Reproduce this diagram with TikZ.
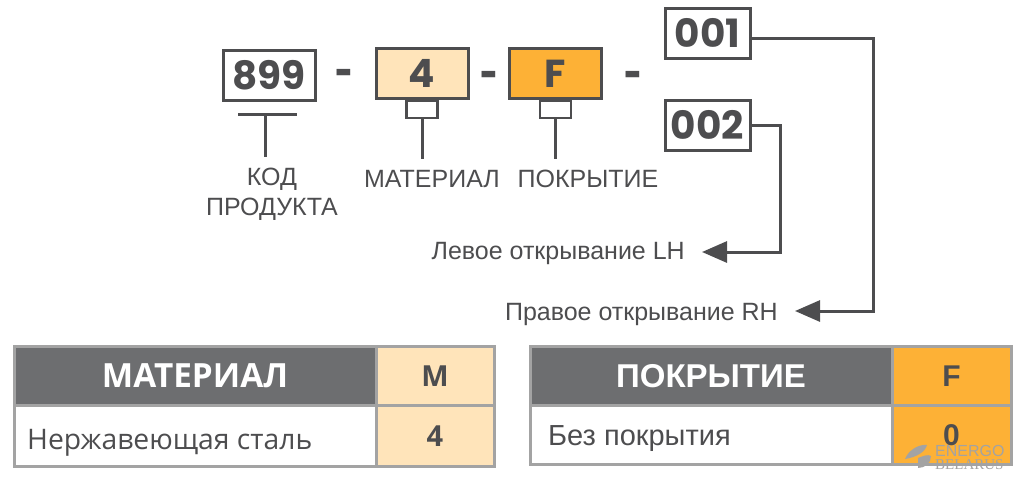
\documentclass[tikz,border=0pt]{standalone}
\usepackage{fontspec}
\setmainfont{Liberation Sans}
\newfontfamily\opensans{Open Sans}
\newfontfamily\popfont{Poppins}
\usetikzlibrary{arrows.meta,calc}
\definecolor{inkgray}{HTML}{4D4D4F}
\definecolor{headgray}{HTML}{6D6E70}
\definecolor{rulegray}{HTML}{A3A3A3}
\definecolor{lightcell}{HTML}{FFE4BA}
\definecolor{orangecell}{HTML}{FDB136}
\newcommand{\fsz}[1]{\fontsize{#1}{#1}\selectfont}
\tikzset{%
  codebox/.style  = {shape=rectangle, draw=inkgray, line width=3pt, inner sep=0pt,%
                     minimum width=92pt, minimum height=50pt, text=inkgray,%
                     font=\popfont\bfseries\fsz{39}},%
  tabbox/.style   = {shape=rectangle, draw=inkgray, line width=2.2pt, fill=white,%
                     inner sep=0pt, minimum width=31pt, minimum height=17pt},%
  partlabel/.style= {inner sep=0pt, text=inkgray, font=\fsz{25}, align=center},%
  hyphen/.style   = {inner sep=0pt, text=inkgray, font=\opensans\bfseries\fsz{52}},%
  wire/.style     = {draw=inkgray, line width=3pt},%
  openarrow/.style= {wire, -{Triangle[length=25pt,width=21pt]}},%
  leader/.style   = {draw=inkgray, line width=3pt},%
  sidetext/.style = {inner sep=0pt, anchor=east, text=inkgray, font=\fsz{25}},%
  cell/.style     = {shape=rectangle, draw=rulegray, line width=3pt, inner sep=0pt},%
  headcell/.style = {cell, fill=headgray, text=white, font=\opensans\bfseries\fsz{33.3}},%
  keycell/.style  = {cell, text=inkgray, font=\opensans\bfseries\fsz{29}},%
  rowtext/.style  = {inner sep=0pt, anchor=west, text=inkgray}%
}
\begin{document}
\begin{tikzpicture}[x=1pt,y=-1pt]
	\useasboundingbox (0,0) rectangle (1024,480);
	% code row
	\node [codebox] (code) at (269,75.5) {899};
	\node [codebox,fill=lightcell] (material) at (422,73.5) {4};
	\node [codebox,fill=orangecell] (coating) at (555.5,73.5) {F};
	\node [codebox,minimum width=85pt] (right) at (707.5,33) {001};
	\node [codebox,minimum width=85pt] (left) at (707.5,125) {002};
	\node [hyphen] (dashA) at (343.5,78) {-};
	\node [hyphen] (dashB) at (488.5,80) {-};
	\node [hyphen] (dashC) at (632.5,80) {-};
	% part labels
	\node [tabbox,anchor=north] (materialtab) at (material.south) {};
	\node [tabbox,anchor=north] (coatingtab) at (coating.south) {};
	\node [partlabel] (codetxt) at (272,194.5) {КОД\\[4.5pt]ПРОДУКТА};
	\node [partlabel] (materialtxt) at (432,179) {МАТЕРИАЛ};
	\node [partlabel] (coatingtxt) at (588,179) {ПОКРЫТИЕ};
	\coordinate (barL) at (238,114);
	\coordinate (barR) at (297,114);
	\draw [leader] (barL) -- (barR);
	\draw [leader] (265.5,114) -- (265.5,157);
	\draw [leader] (materialtab.south) -- ++(0,40);
	\draw [leader] (coatingtab.south) -- ++(0,40);
	% opening side
	\node [sidetext] (lefttxt) at (685,253) {Левое открывание LH};
	\node [sidetext] (righttxt) at (778,314) {Правое открывание RH};
	\coordinate (turnright) at (873,38);
	\coordinate (turnleft) at (780,125);
	\draw [openarrow] (right.east |- turnright) -- (turnright) |- ([xshift=17pt,yshift=3pt]righttxt.east);
	\draw [openarrow] (left.east) -- (turnleft) |- ([xshift=17pt,yshift=1pt]lefttxt.east);
	% material table
	\node [headcell,minimum width=362pt,minimum height=58.5pt] (mathead) at (195,376) {МАТЕРИАЛ};
	\node [keycell,fill=lightcell,minimum width=118pt,minimum height=58.5pt] (matkey) at (435,376) {M};
	\node [cell,minimum width=362pt,minimum height=61pt] (matrow) at (195,436) {};
	\node [keycell,fill=lightcell,minimum width=118pt,minimum height=61pt] (matval) at (435,436) {4};
	\node [rowtext,font=\opensans\fsz{28.3}] (mattxt) at (27,443) {Нержавеющая сталь};
	% coating table
	\node [headcell,font=\bfseries\fsz{33},minimum width=362pt,minimum height=58.5pt] (cothead) at (711,376) {ПОКРЫТИЕ};
	\node [keycell,fill=orangecell,font=\bfseries\fsz{30},minimum width=119pt,minimum height=58.5pt] (cotkey) at (951.5,376) {F};
	\node [cell,minimum width=362pt,minimum height=58.5pt] (cotrow) at (711,435) {};
	\node [keycell,fill=orangecell,font=\bfseries\fsz{30},minimum width=119pt,minimum height=58.5pt,text depth=-2pt] (cotval) at (951.5,435) {0};
	\node [rowtext,font=\fsz{29}] (cottxt) at (548,439) {Без покрытия};
	% watermark
	\fill [rulegray] (905,459) .. controls (909,449) and (920,444) .. (927,445) .. controls (925,452) and (917,457) .. (905,459);
	\fill [rulegray] (918,458) .. controls (923,456) and (928,454) .. (931,456) .. controls (931,463) and (925,468) .. (918,468) -- cycle;
	\node [inner sep=0pt,anchor=west,text=rulegray,font=\fsz{16}] (wmA) at (935,451) {ENERGO};
	\node [inner sep=0pt,anchor=west,text=rulegray,font=\fontspec{Liberation Serif}\fsz{15}] (wmB) at (935,465) {BELARUS};
\end{tikzpicture}
\end{document}
